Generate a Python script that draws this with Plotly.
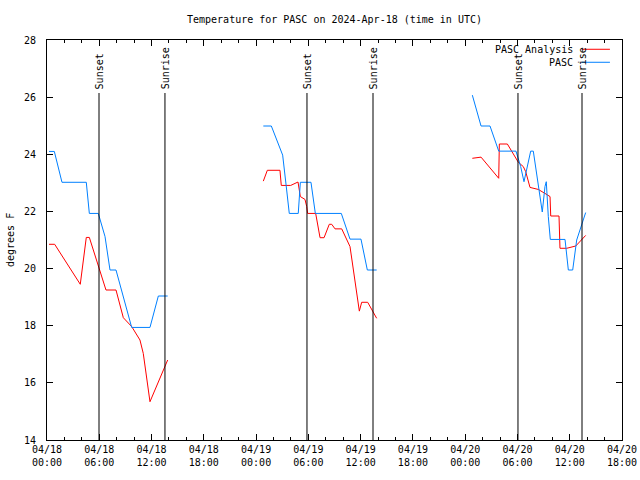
import plotly.graph_objects as go

# ---- data (hours since 04/18 00:00 UTC) ----
tick_hours = [0, 6, 12, 18, 24, 30, 36, 42, 48, 54, 60, 66]
tick_labels = ["04/18<br>00:00", "04/18<br>06:00", "04/18<br>12:00", "04/18<br>18:00",
               "04/19<br>00:00", "04/19<br>06:00", "04/19<br>12:00", "04/19<br>18:00",
               "04/20<br>00:00", "04/20<br>06:00", "04/20<br>12:00", "04/20<br>18:00"]
y_ticks = [14, 16, 18, 20, 22, 24, 26, 28]

sunset_hours = [5.97, 29.84, 54.06]
sunrise_hours = [13.54, 37.42, 61.41]

analysis_t = [0.23, 0.88, 3.82, 4.51, 4.86, 5.99, 6.77, 7.92, 8.76, 9.72, 10.67, 11.05, 11.82, 13.85,
              None,
              24.83, 25.29, 26.74, 26.89, 27.97, 28.47, 28.81, 29.08, 29.61, 29.81, 29.92, 30.84,
              31.34, 31.80, 32.40, 32.68, 33.06, 33.83, 34.78, 35.85, 36.12, 36.81, 37.84,
              None,
              48.82, 49.82, 51.85, 51.92, 52.84, 54.10, 54.67, 54.95, 55.44, 56.39, 57.16, 57.74,
              57.82, 58.77, 58.88, 59.65, 60.69, 61.83]
analysis_v = [20.85, 20.85, 19.45, 21.09, 21.09, 20.01, 19.25, 19.25, 18.28, 17.97, 17.50, 17.03, 15.34, 16.80,
              None,
              23.06, 23.44, 23.44, 22.91, 22.91, 22.98, 23.03, 22.52, 22.42, 22.17, 21.93, 21.93,
              21.08, 21.08, 21.55, 21.55, 21.39, 21.39, 20.77, 18.51, 18.82, 18.82, 18.26,
              None,
              23.86, 23.90, 23.16, 24.36, 24.36, 23.72, 23.57, 23.39, 22.84, 22.77, 22.63, 22.52,
              21.84, 21.84, 20.71, 20.71, 20.79, 21.16]

obs_t = [0.23, 0.84, 1.72, 4.51, 4.86, 5.89, 6.66, 7.23, 7.92, 9.72, 11.82, 12.78, 13.85,
         None,
         24.83, 25.75, 27.05, 27.32, 27.51, 27.81, 28.84, 29.08, 30.30, 30.80, 33.78, 34.78,
         36.04, 36.77, 37.84,
         None,
         48.82, 49.82, 50.85, 51.85, 53.83, 54.37, 54.75, 55.52, 55.82, 56.28, 56.59, 56.85,
         57.16, 57.31, 57.54, 57.77, 59.46, 59.84, 60.34, 60.80, 61.83]
obs_v = [24.10, 24.10, 23.02, 23.02, 21.93, 21.93, 21.12, 19.95, 19.95, 17.94, 17.94, 19.04, 19.04,
         None,
         24.99, 24.99, 23.97, 23.33, 22.75, 21.93, 21.93, 23.02, 23.02, 21.93, 21.93, 21.03,
         21.03, 19.95, 19.95,
         None,
         26.07, 24.99, 24.99, 24.11, 24.11, 23.57, 23.04, 24.11, 24.11, 23.10, 22.52, 21.98,
         22.87, 23.04, 21.82, 21.02, 21.02, 19.95, 19.95, 21.00, 21.96]

series_names = ["PASC Analysis", "PASC"]
series_colors = ["#ff0000", "#0080ff"]

FONT = "DejaVu Sans Mono"
FS = 10

fig = go.Figure()
fig.add_trace(go.Scatter(x=analysis_t, y=analysis_v, mode="lines", name=series_names[0],
                         line=dict(color=series_colors[0], width=1), connectgaps=False))
fig.add_trace(go.Scatter(x=obs_t, y=obs_v, mode="lines", name=series_names[1],
                         line=dict(color=series_colors[1], width=1), connectgaps=False))

line_top = 0.8675
for t, lab in [(h, "Sunset") for h in sunset_hours] + [(h, "Sunrise") for h in sunrise_hours]:
    fig.add_shape(type="line", xref="x", yref="y domain", x0=t, x1=t, y0=0, y1=line_top,
                  line=dict(color="black", width=1))
    fig.add_annotation(x=t, y=line_top + 0.004, xref="x", yref="y domain", text=lab,
                       textangle=-90, showarrow=False, xanchor="center", yanchor="bottom",
                       font=dict(family=FONT, size=FS, color="black"))

# legend (gnuplot style: text then line sample)
leg_y = [0.9768, 0.9443]
for name, col, yy in zip(series_names, series_colors, leg_y):
    fig.add_annotation(x=0.9183, y=yy, xref="paper", yref="paper", text=name, showarrow=False,
                       xanchor="right", yanchor="middle",
                       font=dict(family=FONT, size=FS, color="black"))
    fig.add_shape(type="line", xref="paper", yref="paper", x0=0.930, x1=0.979, y0=yy, y1=yy,
                  line=dict(color=col, width=1))

fig.update_layout(
    width=640, height=480,
    margin=dict(l=47, r=18, t=40, b=40, autoexpand=False),
    paper_bgcolor="white", plot_bgcolor="white",
    showlegend=False,
    font=dict(family=FONT, size=FS, color="black"),
    title=dict(text="Temperature for PASC on 2024-Apr-18 (time in UTC)", x=0.5, xref="paper",
               y=1 - 19 / 480, yref="container", yanchor="middle", automargin=False,
               font=dict(family=FONT, size=FS, color="black")),
)
fig.update_xaxes(range=[0, 66], tickvals=tick_hours, ticktext=tick_labels, ticks="inside",
                 ticklen=6, tickcolor="black", showline=True, linecolor="black", linewidth=1,
                 mirror="allticks", showgrid=False, zeroline=False, automargin=False,
                 minor=dict(dtick=2, ticks="inside", ticklen=3, tickcolor="black", showgrid=False),
                 tickfont=dict(family=FONT, size=FS, color="black"))
fig.update_yaxes(range=[14, 28], tickvals=y_ticks, ticks="inside", ticklen=6, tickcolor="black",
                 showline=True, linecolor="black", linewidth=1, mirror="allticks",
                 showgrid=False, zeroline=False, ticklabelstandoff=8, automargin=False,
                 tickfont=dict(family=FONT, size=FS, color="black"))

# y-axis title placed like gnuplot (x=10px from the left edge of the image)
fig.add_annotation(x=(10 - 47) / 575, y=0.5, xref="paper", yref="paper", text="degrees F",
                   textangle=-90, showarrow=False, xanchor="center", yanchor="middle",
                   font=dict(family=FONT, size=FS, color="black"))

fig.write_html("out.html", config={"displayModeBar": False},
               post_script="document.body.style.margin='0';document.body.style.overflow='hidden';")
